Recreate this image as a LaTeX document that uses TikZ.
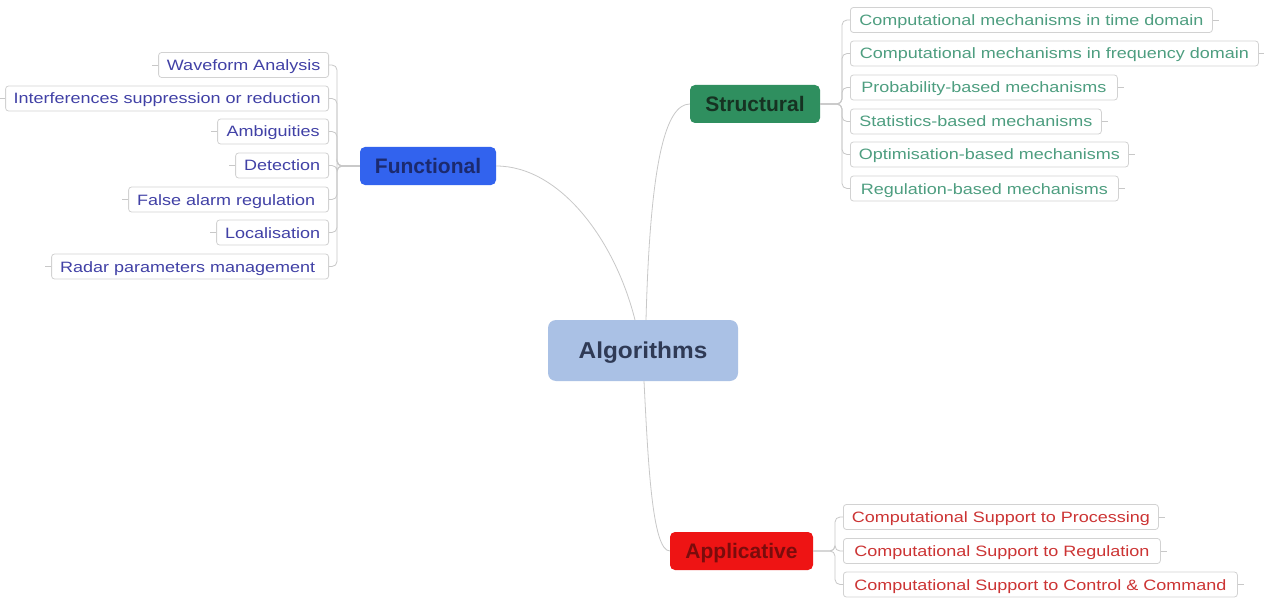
\documentclass[tikz,border=0pt]{standalone}
\usepackage{fontspec}
\setmainfont{Liberation Sans}
\newfontfamily\leaffont{Liberation Sans}[FakeStretch=1.2]
\newfontfamily\algfont{Liberation Sans}[FakeStretch=1.06]
\definecolor{conn}{HTML}{C8C8C8}
\definecolor{leafborder}{HTML}{D2D2D2}
\definecolor{funfill}{HTML}{3263EE}
\definecolor{funtext}{HTML}{1C2A6E}
\definecolor{funleaf}{HTML}{4141A6}
\definecolor{strfill}{HTML}{2F8F5F}
\definecolor{strtext}{HTML}{163222}
\definecolor{strleaf}{HTML}{4E9E80}
\definecolor{appfill}{HTML}{EE1414}
\definecolor{apptext}{HTML}{7A0C0C}
\definecolor{appleaf}{HTML}{CC3434}
\definecolor{algfill}{HTML}{AAC1E5}
\definecolor{algtext}{HTML}{2F3A55}
\tikzset{
  leafbox/.style={draw=leafborder, line width=0.8pt, fill=white, rounded corners=3pt,
    minimum height=25pt, inner sep=0pt, text height=11pt, text depth=0pt,
    font=\leaffont\fontsize{15}{18}\selectfont},
  mainbox/.style={rounded corners=5pt, minimum height=38pt, inner sep=0pt,
    text height=15pt, text depth=0pt,
    font=\bfseries\fontsize{21}{24}\selectfont},
  link/.style={draw=conn, line width=0.8pt},
  stub/.style={draw=conn, line width=0.8pt},
}
\begin{document}
\begin{tikzpicture}[x=1pt,y=-1pt]
\fill[white] (0,0) rectangle (1264,599);
\useasboundingbox (0,0) rectangle (1264,599);

% central node
\node[rounded corners=8pt, fill=algfill, text=algtext, minimum width=190pt, minimum height=61pt,
  inner sep=0pt, text height=16.5pt, text depth=0pt,
  font=\algfont\bfseries\fontsize{23}{26}\selectfont] (alg) at (643,350.5) {Algorithms};

% main branches
\node[mainbox, fill=funfill, text=funtext, minimum width=136pt] (fun) at (428,166) {Functional};
\node[mainbox, fill=strfill, text=strtext, minimum width=130pt] (str) at (755,104) {Structural};
\node[mainbox, fill=appfill, text=apptext, minimum width=143pt] (app) at (741.5,551) {Applicative};

% functional leaves
\begin{scope}[every node/.style={leafbox, text=funleaf, anchor=east}]
\node[minimum width=170pt] (f1) at (329,65) {Waveform Analysis};
\node[minimum width=323pt] (f2) at (329,98.5) {Interferences suppression or reduction};
\node[minimum width=111pt] (f3) at (329,131.5) {Ambiguities};
\node[minimum width=93pt] (f4) at (329,165.5) {Detection};
\node[minimum width=200pt] (f5) at (329,199.5) {False alarm regulation\,\,};
\node[minimum width=112pt] (f6) at (329,232.5) {Localisation};
\node[minimum width=277pt] (f7) at (329,266.5) {Radar parameters management\,\,};
\end{scope}

% structural leaves
\begin{scope}[every node/.style={leafbox, text=strleaf, anchor=west}]
\node[minimum width=362pt] (s1) at (850,20) {Computational mechanisms in time domain};
\node[minimum width=408pt] (s2) at (850,53.5) {Computational mechanisms in frequency domain};
\node[minimum width=267pt] (s3) at (850,87.5) {Probability-based mechanisms};
\node[minimum width=251pt] (s4) at (850,121.5) {Statistics-based mechanisms};
\node[minimum width=278pt] (s5) at (850,154.5) {Optimisation-based mechanisms};
\node[minimum width=268pt] (s6) at (850,188.5) {Regulation-based mechanisms};
\end{scope}

% applicative leaves
\begin{scope}[every node/.style={leafbox, text=appleaf, anchor=west}]
\node[minimum width=315pt] (p1) at (843,517) {Computational Support to Processing};
\node[minimum width=317pt] (p2) at (843,551) {Computational Support to Regulation};
\node[minimum width=394pt] (p3) at (843,584.5) {Computational Support to Control \& Command};
\end{scope}

% junction coordinates
\coordinate (fj) at (337,166);
\coordinate (sj) at (842,104);
\coordinate (aj) at (835,551);
\coordinate (ain1) at (635,320);
\coordinate (ain2) at (646,320);
\coordinate (aout) at (644,381);

% curved links to centre
\draw[link] (fun.east) .. controls (560,166) and (615,240) .. (ain1);
\draw[link] (str.west) .. controls (664,104) and (650,170) .. (ain2);
\draw[link] (aout) .. controls (648,460) and (652,551) .. (app.west);

% brackets
\foreach \l in {f1,f2,f3,f4,f5,f6,f7}
  \draw[link, rounded corners=5pt] (fun.west) -- (fj) |- (\l.east);
\foreach \l in {s1,s2,s3,s4,s5,s6}
  \draw[link, rounded corners=5pt] (str.east) -- (sj) |- (\l.west);
\foreach \l in {p1,p2,p3}
  \draw[link, rounded corners=5pt] (app.east) -- (aj) |- (\l.west);

% small outer stubs
\foreach \l in {f1,f2,f3,f4,f5,f6,f7}
  \draw[stub] (\l.west) -- ++(-6,0);
\foreach \l in {s1,s2,s3,s4,s5,s6,p1,p2,p3}
  \draw[stub] (\l.east) -- ++(6,0);
\end{tikzpicture}
\end{document}
